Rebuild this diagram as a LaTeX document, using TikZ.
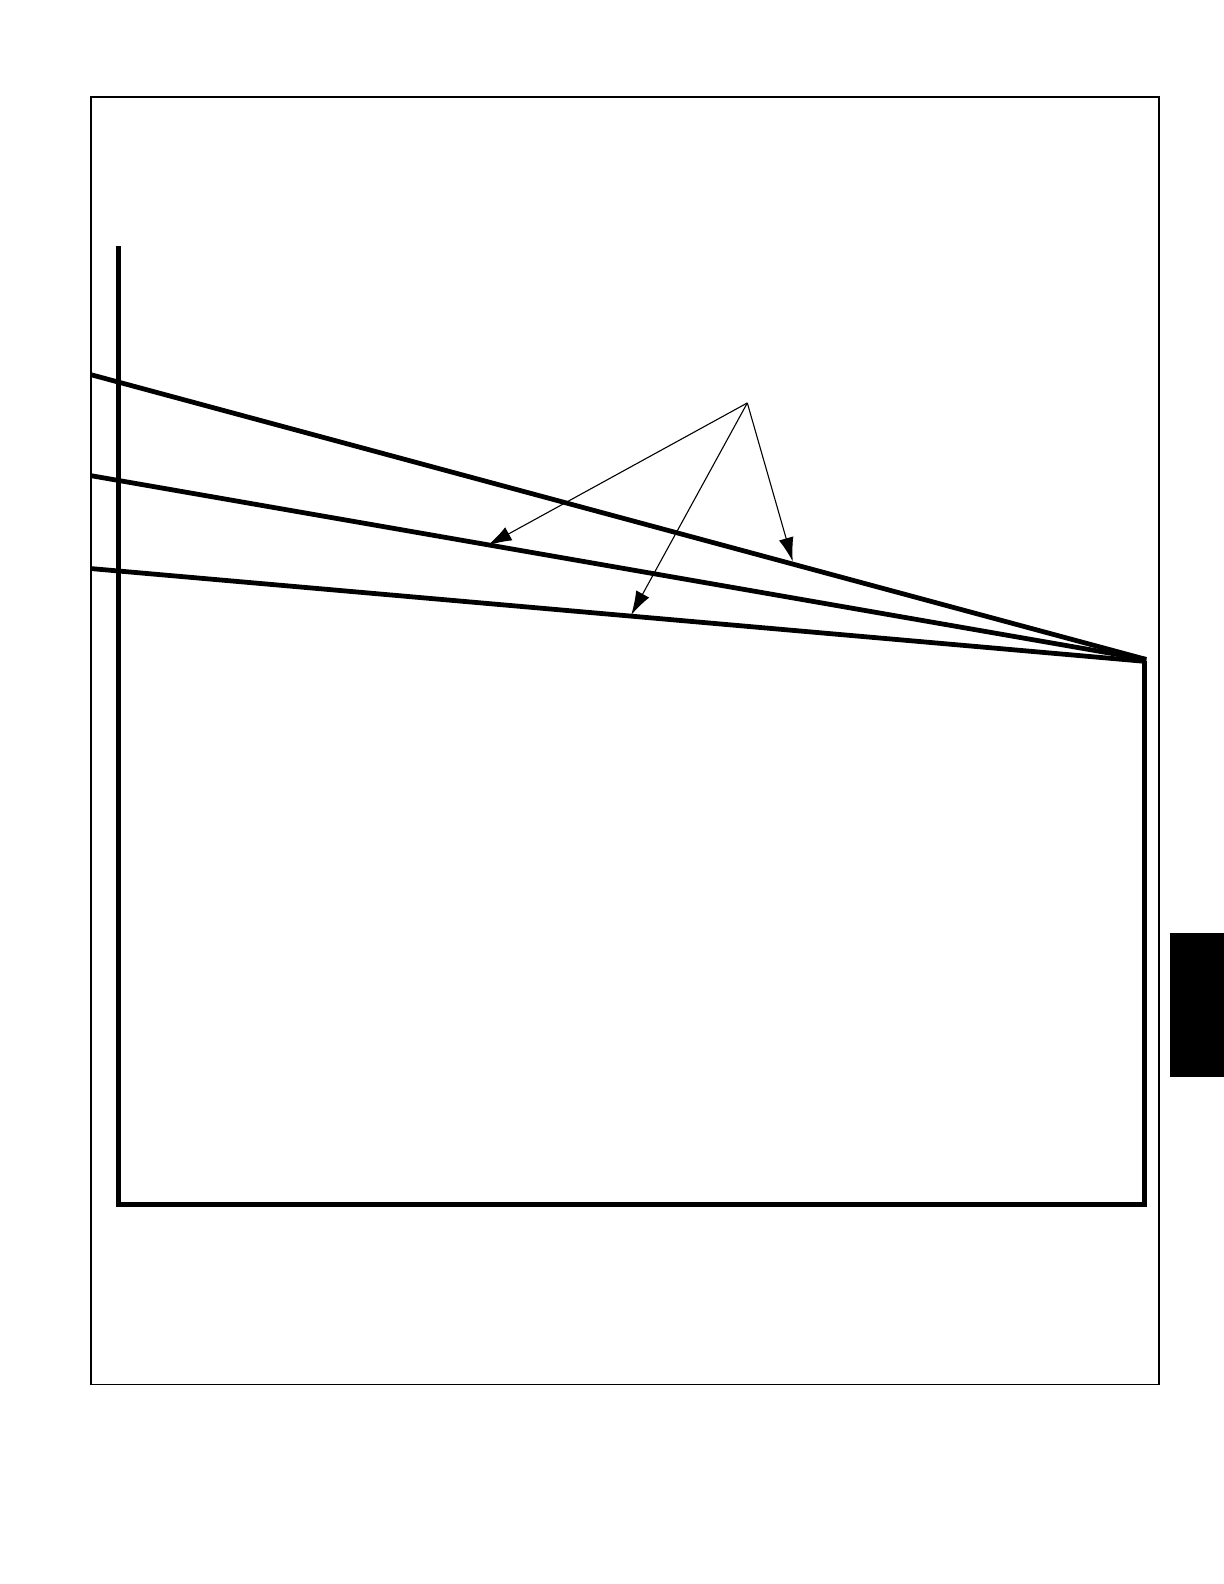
\documentclass[tikz,border=0pt]{standalone}
\usetikzlibrary{arrows.meta}
\begin{document}
\begin{tikzpicture}[x=0.50495bp,y=-0.50495bp,
  frameline/.style={line width=0.9pt},
  heavy/.style={line width=2.4pt},
  leader/.style={line width=0.55pt,-{Latex[length=12pt,width=7.5pt]}}]
\useasboundingbox (0,0) rectangle (1212,1568.5);
% outer frame
\draw[frameline] (90,96) rectangle (1148,1371);
% black tab
\fill (1159,924) rectangle (1212,1066);
% inner outline
\coordinate (tl) at (117,244);
\coordinate (bl) at (117,1193);
\coordinate (br) at (1133,1193);
\coordinate (tr) at (1133,655);
\draw[heavy] (tl) -- (bl) -- (br) -- (tr);
% converging lines
\coordinate (apex) at (1135,653);
\coordinate (a0) at (90,371);
\coordinate (b0) at (90,471);
\coordinate (c0) at (90,563);
\draw[heavy] (a0) -- (apex);
\draw[heavy] (b0) -- (apex);
\draw[heavy] (c0) -- (1135,655);
% leader arrows
\coordinate (src) at (740,399);
\coordinate (tb) at (483,540);
\coordinate (tc) at (625,609);
\coordinate (ta) at (785,556);
\draw[leader] (src) -- (tb);
\draw[leader] (src) -- (tc);
\draw[leader] (src) -- (ta);
\end{tikzpicture}
\end{document}
